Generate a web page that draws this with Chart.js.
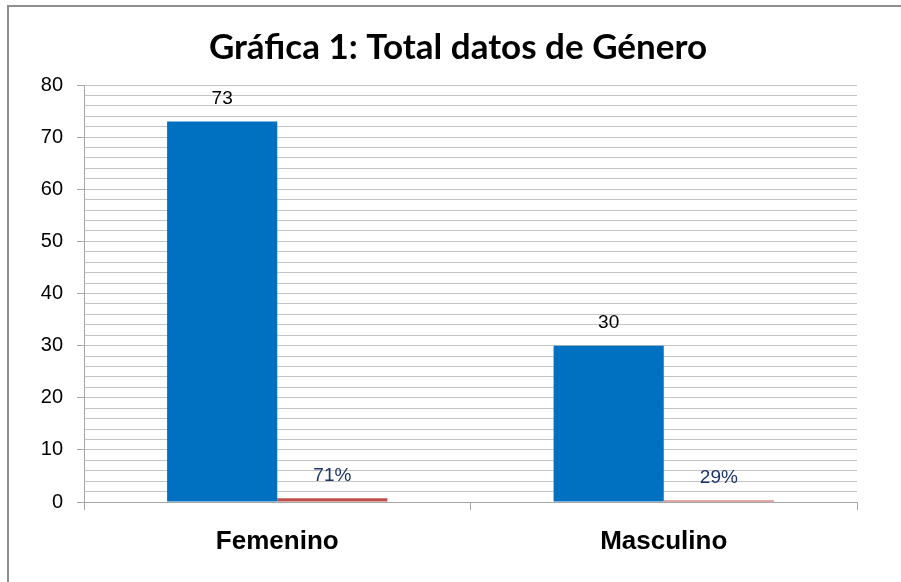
<!DOCTYPE html>
<html>
<head>
<meta charset="utf-8">
<script src="https://cdn.jsdelivr.net/npm/chart.js@4"></script>
<style>
  html, body { margin: 0; padding: 0; background: #fff; }
  #wrap { position: relative; width: 901px; height: 582px; overflow: hidden; }
  #frame { position: absolute; left: 7px; top: 5px; width: 920px; height: 600px;
           border-left: 2px solid #8f8f8f; border-top: 2px solid #8f8f8f; pointer-events: none; }
</style>
</head>
<body>
<div id="wrap">
  <canvas id="grafica"></canvas>
  <div id="frame"></div>
</div>
<script>
const categorias = ['Femenino', 'Masculino'];
const cantidad = [73, 30];          // total per gender
const porcentaje = [0.71, 0.29];    // share, drawn on the same axis
const titulo = 'Gráfica 1: Total datos de Género';
const yMin = 0, yMax = 80, yStep = 2;

// title sits a bit right of the canvas centre, so it is drawn here
const tituloPlugin = {
  id: 'tituloPlugin',
  afterDraw(chart) {
    const ctx = chart.ctx;
    ctx.save();
    ctx.font = 'bold 35px Lato, "Open Sans", sans-serif';
    ctx.fillStyle = '#000';
    ctx.textAlign = 'center';
    ctx.textBaseline = 'middle';
    ctx.fillText(titulo, 458, 48);
    ctx.restore();
  }
};

// draws the value labels above each bar
const etiquetas = {
  id: 'etiquetas',
  afterDatasetsDraw(chart) {
    const ctx = chart.ctx;
    ctx.save();
    ctx.textAlign = 'center';
    ctx.textBaseline = 'middle';
    chart.data.datasets.forEach((ds, i) => {
      chart.getDatasetMeta(i).data.forEach((bar, j) => {
        const v = ds.data[j];
        ctx.font = '19px "Liberation Sans", Arial, sans-serif';
        ctx.fillStyle = i === 0 ? '#000000' : '#1c3668';
        const txt = i === 0 ? String(v) : Math.round(v * 100) + '%';
        ctx.fillText(txt, bar.x, bar.y - 23);
      });
    });
    ctx.restore();
  }
};

const chart = new Chart(document.getElementById('grafica').getContext('2d'), {
  type: 'bar',
  data: {
    labels: categorias,
    datasets: [
      { label: 'Cantidad', data: cantidad, backgroundColor: '#0070c0',
        categoryPercentage: 0.57, barPercentage: 1 },
      { label: 'Porcentaje', data: porcentaje, backgroundColor: '#c0504d',
        categoryPercentage: 0.57, barPercentage: 1 }
    ]
  },
  options: {
    responsive: true,
    maintainAspectRatio: false,
    animation: false,
    layout: { padding: { left: 0, right: 44, top: 85, bottom: 0 } },
    plugins: {
      legend: { display: false },
      tooltip: { enabled: false },
      title: { display: false }
    },
    scales: {
      x: {
        grid: { display: true, offset: true, drawOnChartArea: false, drawTicks: true,
                tickLength: 8, color: '#a6a6a6', lineWidth: 1 },
        border: { display: true, color: '#a6a6a6', width: 1 },
        ticks: { color: '#000', padding: 16,
                 font: { family: '"Liberation Sans", Arial, sans-serif', size: 26, weight: 'bold' } },
        afterFit(scale) { scale.height = 80; }
      },
      y: {
        min: yMin,
        max: yMax,
        grid: {
          color: '#c4c4c4',
          lineWidth: 1,
          tickLength: 7,
          tickColor: c => (c.tick && c.tick.value % 10 === 0) ? '#a6a6a6' : 'rgba(0,0,0,0)'
        },
        border: { display: true, color: '#a6a6a6', width: 1 },
        ticks: {
          stepSize: yStep,
          autoSkip: false,
          color: '#000',
          padding: 14,
          font: { family: '"Liberation Sans", Arial, sans-serif', size: 20 },
          callback: v => (v % 10 === 0 ? v : '')
        },
        afterFit(scale) { scale.width = 84; }
      }
    }
  },
  plugins: [etiquetas, tituloPlugin]
});
</script>
</body>
</html>
